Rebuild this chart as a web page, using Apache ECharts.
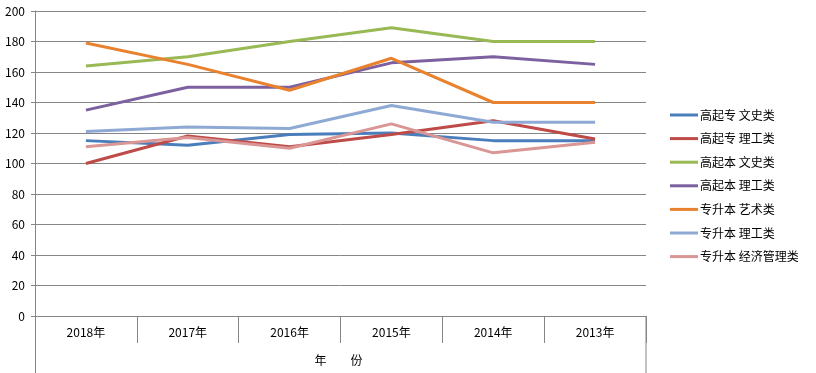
<!DOCTYPE html>
<html><head><meta charset="utf-8">
<script src="https://cdn.jsdelivr.net/npm/echarts@6/dist/echarts.min.js"></script>
<style>html,body{margin:0;padding:0;background:#fff}#c{width:816px;height:373px}</style>
</head><body><div id="c"></div>
<script>
const categories = ['2018年','2017年','2016年','2015年','2014年','2013年'];
const seriesNames = ['高起专 文史类','高起专 理工类','高起本 文史类','高起本 理工类','专升本 艺术类','专升本 理工类','专升本 经济管理类'];
const gqzWenshi = [115,112,119,120,115,115];
const gqzLigong = [100,118,111,119,128,116];
const gqbWenshi = [164,170,180,189,180,180];
const gqbLigong = [135,150,150,166,170,165];
const zsbYishu = [179,165,148,169,140,140];
const zsbLigong = [121,124,123,138,127,127];
const zsbJingji = [111,117,110,126,107,114];
const yTicks = [0,20,40,60,80,100,120,140,160,180,200];
const colors = ['#4A7EBB','#BE4B48','#98B954','#7D60A0','#E8822F','#8EA9D4','#D99694'];
const allData = [gqzWenshi,gqzLigong,gqbWenshi,gqbLigong,zsbYishu,zsbLigong,zsbJingji];

const chart = echarts.init(document.getElementById('c'));
const font = '"Noto Sans CJK SC", "Noto Sans", sans-serif';
chart.setOption({
  animation: false,
  color: colors,
  textStyle: {fontFamily: font},
  grid: {left: 35, right: 170, top: 11, bottom: 57, containLabel: false},
  legend: {
    orient: 'vertical', left: 665, top: 104, itemGap: 11.6,
    itemWidth: 28, itemHeight: 3,
    icon: 'rect',
    textStyle: {fontSize: 12, color: '#000', fontFamily: font, padding: [0,0,0,-3]},
    data: seriesNames
  },
  xAxis: {
    type: 'category', data: categories, boundaryGap: true,
    axisLine: {lineStyle: {color: '#868686', width: 1}},
    axisTick: {show: true, length: 27, lineStyle: {color: '#868686'}},
    axisLabel: {fontSize: 12, color: '#000', margin: 10},
    name: '年　　份', nameLocation: 'middle', nameGap: 38,
    nameTextStyle: {fontSize: 12, color: '#000', padding: [0,0,0,-4]}
  },
  yAxis: {
    type: 'value', min: 0, max: 200, interval: 20,
    axisLine: {show: true, lineStyle: {color: '#868686'}},
    axisTick: {show: true, length: 4, lineStyle: {color: '#868686'}},
    axisLabel: {fontSize: 12, color: '#000', margin: 10},
    splitLine: {lineStyle: {color: '#868686', width: 1}}
  },
  graphic: [
    {type: 'line', shape: {x1: 35.5, y1: 316, x2: 35.5, y2: 373}, style: {stroke: '#868686', lineWidth: 1}},
    {type: 'line', shape: {x1: 646, y1: 316, x2: 646, y2: 373}, style: {stroke: '#868686', lineWidth: 1}}
  ],
  series: allData.map((d, i) => ({
    name: seriesNames[i], type: 'line', data: d,
    symbol: 'none', lineStyle: {width: 3, color: colors[i]},
    itemStyle: {color: colors[i]}
  }))
});
</script></body></html>
